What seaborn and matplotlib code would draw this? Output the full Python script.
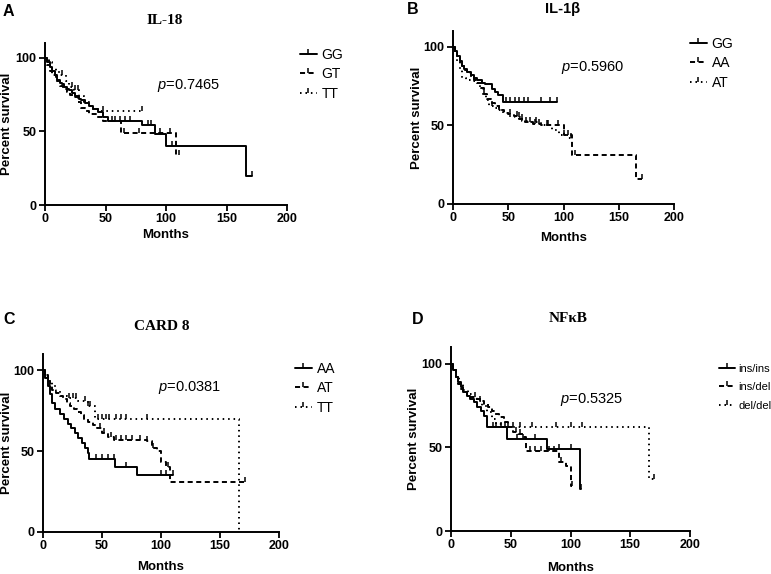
import numpy as np
import pandas as pd
import matplotlib
matplotlib.use("Agg")
import matplotlib.pyplot as plt
import seaborn as sns
from matplotlib.lines import Line2D

# ---------------- data ----------------
# Panel A  IL-18
a_gg_t = [0, 2, 4, 6, 8, 10, 12, 14, 16, 18, 20, 22, 25, 28, 30, 33, 36, 40, 44, 48, 52, 80, 91, 100, 166]
a_gg_s = [100, 97, 94, 91, 88, 85, 83, 82, 80, 79, 78, 76, 74, 72, 71, 69, 67, 65, 63, 60, 57, 54, 48, 40, 20]
a_gg_end = 171
a_gg_cens = [55, 58, 62, 66, 70, 85, 88, 105, 171]
a_gt_t = [0, 2, 4, 6, 9, 12, 15, 18, 21, 24, 27, 30, 33, 36, 42, 48, 63, 108]
a_gt_s = [100, 95, 91, 88, 84, 81, 79, 77, 75, 73, 70, 66, 64, 62, 60, 57, 49, 34]
a_gt_end = 111
a_gt_cens = [65, 78, 95, 103, 111]
a_tt_t = [0, 3, 6, 9, 12, 17, 20, 24, 28, 32, 36, 40, 44]
a_tt_s = [100, 97, 93, 90, 88, 84, 80, 78, 74, 70, 67, 65, 64]
a_tt_end = 80
a_tt_cens = [14, 22, 25, 27, 48, 80]

# Panel B  IL-1beta
b_gg_t = [0, 2, 4, 6, 8, 10, 13, 16, 19, 22, 26, 29, 35, 38, 41, 45]
b_gg_s = [100, 97, 94, 91, 88, 86, 84, 82, 80, 79, 77, 76, 73, 71, 69, 65]
b_gg_end = 94
b_gg_cens = [48, 52, 56, 60, 64, 68, 80, 88, 94]
b_aa_t = [0, 2, 4, 6, 8, 10, 13, 16, 19, 22, 25, 28, 31, 34, 38, 42, 46, 50, 55, 60, 65, 72, 80, 100, 108, 166]
b_aa_s = [100, 97, 94, 91, 88, 85, 83, 81, 79, 77, 74, 70, 67, 64, 62, 60, 58, 57, 56, 54, 52, 51, 50, 44, 31, 16]
b_aa_end = 171
b_aa_cens = [52, 58, 62, 66, 70, 74, 78, 86, 95, 104, 110, 171]
b_at_t = [0, 2, 4, 6, 8, 12, 16, 20, 24, 27, 30, 33, 36, 40, 45, 50, 56, 62, 70, 80, 90, 96, 104]
b_at_s = [100, 96, 91, 86, 80, 79, 78, 77, 74, 70, 66, 62, 61, 60, 58, 56, 55, 53, 52, 50, 47, 44, 42]
b_at_end = 107
b_at_cens = [28, 35, 42, 60, 75, 85, 100, 107]

# Panel C  CARD 8
c_aa_t = [0, 2, 4, 6, 8, 10, 14, 18, 21, 24, 27, 30, 33, 36, 38, 39, 61, 80]
c_aa_s = [100, 95, 90, 85, 80, 76, 73, 70, 67, 64, 61, 58, 55, 52, 49, 45, 40, 35]
c_aa_end = 110
c_aa_cens = [45, 50, 55, 60, 70, 100, 104, 110]
c_at_t = [0, 2, 4, 6, 8, 11, 14, 17, 20, 23, 26, 29, 32, 35, 38, 42, 46, 50, 55, 60, 88, 92, 97, 100, 104, 108]
c_at_s = [100, 97, 94, 91, 88, 86, 84, 82, 80, 78, 76, 74, 72, 70, 68, 66, 64, 61, 59, 57, 56, 52, 50, 43, 40, 31]
c_at_end = 171
c_at_cens = [48, 52, 58, 62, 66, 70, 75, 82, 88, 93, 106, 171]
c_tt_t = [0, 2, 5, 8, 11, 14, 20, 30, 38, 44, 166]
c_tt_s = [100, 96, 93, 90, 87, 84, 83, 81, 78, 70, 0]
c_tt_end = 166
c_tt_cens = [22, 25, 28, 36, 38, 40, 47, 50, 53, 56, 62, 66, 70, 88]

# Panel D  NFkB
d_ii_t = [0, 2, 4, 6, 8, 10, 13, 16, 19, 22, 25, 28, 30, 47, 80, 108]
d_ii_s = [100, 96, 92, 89, 86, 83, 81, 79, 77, 74, 72, 69, 62, 55, 49, 25]
d_ii_end = 109
d_ii_cens = [35, 38, 42, 55, 60, 70, 90, 100, 109]
d_id_t = [0, 2, 4, 6, 8, 10, 13, 16, 20, 25, 28, 31, 34, 37, 40, 44, 48, 52, 56, 60, 63, 90, 96, 100]
d_id_s = [100, 96, 92, 88, 85, 83, 81, 80, 79, 78, 76, 74, 72, 70, 68, 65, 62, 59, 58, 56, 48, 41, 39, 27]
d_id_end = 101
d_id_cens = [54, 58, 66, 70, 75, 82, 86, 92, 101]
d_dd_t = [0, 2, 4, 7, 10, 14, 18, 22, 26, 30, 34, 38, 42, 166]
d_dd_s = [100, 96, 92, 88, 84, 82, 80, 78, 75, 71, 67, 64, 62, 31]
d_dd_end = 170
d_dd_cens = [20, 24, 45, 48, 52, 58, 68, 88, 100, 110, 170]

titles = ["IL-18", "IL-1\u03b2", "CARD 8", "NF\u03baB"]
letters = ["A", "B", "C", "D"]
pvals = ["0.7465", "0.5960", "0.0381", "0.5325"]
labels_a = ["GG", "GT", "TT"]
labels_b = ["GG", "AA", "AT"]
labels_c = ["AA", "AT", "TT"]
labels_d = ["ins/ins", "ins/del", "del/del"]
x_ticks = [0, 50, 100, 150, 200]
y_ticks = [0, 50, 100]

# ---------------- style ----------------
sns.set_theme(style="white")
plt.rcParams["font.family"] = ["Liberation Sans", "DejaVu Sans"]
for key in ["text.color", "axes.labelcolor", "xtick.color", "ytick.color", "axes.edgecolor"]:
    plt.rcParams[key] = "black"
plt.rcParams["mathtext.fontset"] = "custom"
plt.rcParams["mathtext.it"] = "Liberation Sans:italic"
plt.rcParams["mathtext.rm"] = "Liberation Sans"

W, H = 771, 574
fig = plt.figure(figsize=(W / 100, H / 100), dpi=100)


def fx(x):
    return x / W


def fy(y):
    return 1 - y / H


LW = 1.4
styles = ["-", (0, (2.6, 1.8)), (0, (0.8, 2.0))]

panels = [
    dict(box=(45, 287, 43, 205), series=[(a_gg_t, a_gg_s, a_gg_end, a_gg_cens),
                                        (a_gt_t, a_gt_s, a_gt_end, a_gt_cens),
                                        (a_tt_t, a_tt_s, a_tt_end, a_tt_cens)],
         labels=labels_a, title=(165, 20, "serif"), letter=(3, 12), p=(189, 86), leg=(300, 48),
         ylab=-0.131, xlab=-0.148, legfs=10, hl=1.2, ls=0.38),
    dict(box=(453, 674, 31, 204), series=[(b_gg_t, b_gg_s, b_gg_end, b_gg_cens),
                                         (b_aa_t, b_aa_s, b_aa_end, b_aa_cens),
                                         (b_at_t, b_at_s, b_at_end, b_at_cens)],
         labels=labels_b, title=(563, 9, "sans"), letter=(407, 9), p=(593, 68), leg=(690, 37),
         ylab=-0.136, xlab=-0.162, legfs=10, hl=1.2, ls=0.38),
    dict(box=(43, 279, 354, 532), series=[(c_aa_t, c_aa_s, c_aa_end, c_aa_cens),
                                         (c_at_t, c_at_s, c_at_end, c_at_cens),
                                         (c_tt_t, c_tt_s, c_tt_end, c_tt_cens)],
         labels=labels_c, title=(162, 327, "serif"), letter=(3, 320), p=(190, 388), leg=(295, 362),
         ylab=-0.128, xlab=-0.161, legfs=10, hl=1.2, ls=0.38),
    dict(box=(451, 690, 347, 531), series=[(d_ii_t, d_ii_s, d_ii_end, d_ii_cens),
                                          (d_id_t, d_id_s, d_id_end, d_id_cens),
                                          (d_dd_t, d_dd_s, d_dd_end, d_dd_cens)],
         labels=labels_d, title=(568, 319, "serif"), letter=(412, 320), p=(592, 399), leg=(719, 364),
         ylab=-0.130, xlab=-0.167, legfs=8, hl=1.4, ls=0.75),
]

for i, P in enumerate(panels):
    l, r, t, b = P["box"]
    ax = fig.add_axes([fx(l), fy(b), (r - l) / W, (b - t) / H])
    handles = []
    for k, (tt, ss, end, cens) in enumerate(P["series"]):
        tt = list(tt)
        ss = list(ss)
        if end > tt[-1]:
            tt = tt + [end]
            ss = ss + [ss[-1]]
        df = pd.DataFrame({"t": tt, "s": ss})
        sns.lineplot(data=df, x="t", y="s", ax=ax, drawstyle="steps-post",
                     estimator=None, sort=False, color="black", lw=LW,
                     linestyle=styles[k])
        tarr = np.array(tt)
        sarr = np.array(ss)
        idx = np.searchsorted(tarr, cens, side="right") - 1
        cy = sarr[np.clip(idx, 0, len(sarr) - 1)]
        ax.plot(cens, cy, ls="none", marker=2, ms=3.5, mew=1.1, color="black")
        handles.append(Line2D([], [], color="black", lw=LW, linestyle=styles[k],
                              marker=2, ms=3.5, mew=1.1))
    ax.set_xlim(0, 200)
    ax.set_ylim(0, 110)
    ax.set_xticks(x_ticks)
    ax.set_yticks(y_ticks)
    sns.despine(ax=ax)
    for sp in ["left", "bottom"]:
        ax.spines[sp].set_color("black")
        ax.spines[sp].set_linewidth(1.4)
    ax.tick_params(axis="both", which="major", direction="out", length=4, width=1.3,
                   color="black", labelcolor="black", labelsize=9, pad=2,
                   bottom=True, left=True)
    for lab in ax.get_xticklabels() + ax.get_yticklabels():
        lab.set_fontweight("bold")
    ax.set_xlabel("Months", fontsize=9.5, fontweight="bold")
    ax.set_ylabel("Percent survival", fontsize=9.5, fontweight="bold")
    ax.xaxis.set_label_coords(0.5, P["xlab"])
    ax.yaxis.set_label_coords(P["ylab"], 0.5)
    ax.grid(False)

    tx, ty, fam = P["title"]
    if fam == "serif":
        fig.text(fx(tx), fy(ty), titles[i], ha="center", va="center", fontsize=11,
                 fontweight="bold", family=["Liberation Serif", "DejaVu Serif"])
    else:
        fig.text(fx(tx), fy(ty), titles[i], ha="center", va="center", fontsize=10.5,
                 fontweight="bold", family=["Liberation Sans", "DejaVu Sans"])
    lx, ly = P["letter"]
    fig.text(fx(lx), fy(ly), letters[i], ha="left", va="center", fontsize=11.5,
             fontweight="bold")
    px, py = P["p"]
    fig.text(fx(px), fy(py), r"$\it{p}$" + "=" + pvals[i], ha="center", va="center",
             fontsize=10.5)
    gx, gy = P["leg"]
    ax.legend(handles, P["labels"], loc="upper left", bbox_to_anchor=(fx(gx), fy(gy)),
              bbox_transform=fig.transFigure, frameon=False,
              prop={"family": ["Liberation Sans"], "size": P["legfs"]},
              handlelength=P["hl"], handletextpad=0.35, labelspacing=P["ls"], borderpad=0,
              borderaxespad=0, numpoints=1)

fig.savefig("out.png", dpi=100)
